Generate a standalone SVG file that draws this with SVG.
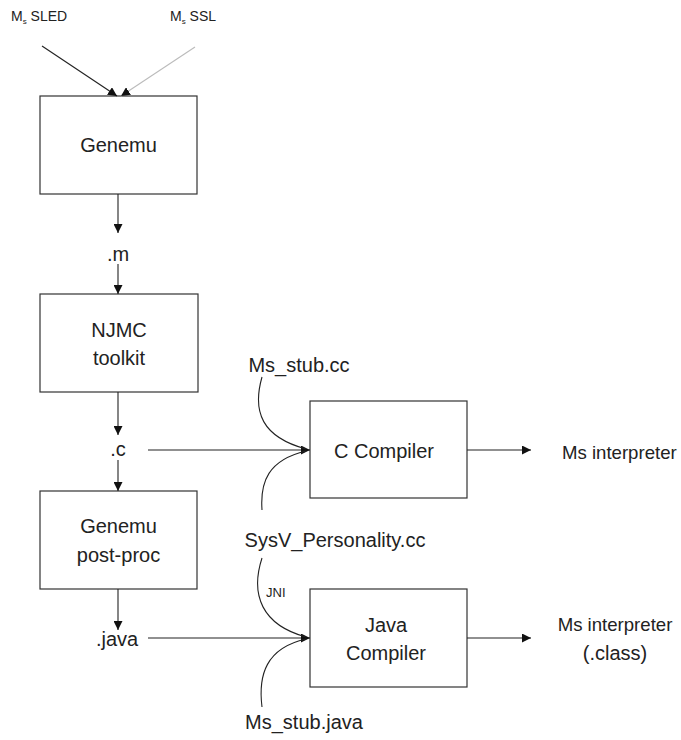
<svg xmlns="http://www.w3.org/2000/svg" width="681" height="740" viewBox="0 0 681 740">
<style>
text{font-family:"Liberation Sans",Arial,sans-serif;fill:#222;}
.t{font-size:20px;}
.o{font-size:18.6px;}
.s{font-size:13px;}
.top{font-size:14px;}
.sub{font-size:8px;}
.box{fill:#fff;stroke:#333;stroke-width:1.2;}
.ln{fill:none;stroke:#222;stroke-width:1.1;}
</style>
<defs>
<marker id="ah" viewBox="0 0 10 10" refX="10" refY="5" markerWidth="9" markerHeight="9" markerUnits="userSpaceOnUse" orient="auto">
<path d="M0,0 L10,5 L0,10 Z" fill="#111"/>
</marker>
</defs>
<rect width="681" height="740" fill="#fff"/>

<g id="label-sled"><text class="top" x="11" y="21">M<tspan class="sub" dy="3">s</tspan><tspan dy="-3"> SLED</tspan></text></g>
<g id="label-ssl"><text class="top" x="170" y="21">M<tspan class="sub" dy="3">s</tspan><tspan dy="-3"> SSL</tspan></text></g>

<g id="genemu"><rect class="box" x="40" y="96" width="157" height="98"/><text class="t" x="118.5" y="152" text-anchor="middle">Genemu</text></g>
<g id="m-label"><text class="t" x="118" y="261" text-anchor="middle">.m</text></g>
<g id="njmc"><rect class="box" x="40" y="294" width="158" height="98"/><text class="t" x="119" y="337" text-anchor="middle">NJMC</text><text class="t" x="119" y="365" text-anchor="middle">toolkit</text></g>
<g id="c-label"><text class="t" x="118" y="456" text-anchor="middle">.c</text></g>
<g id="postproc"><rect class="box" x="40" y="491" width="157" height="98"/><text class="t" x="118.5" y="533" text-anchor="middle">Genemu</text><text class="t" x="118.5" y="562" text-anchor="middle">post-proc</text></g>
<g id="java-label"><text class="t" x="117" y="646" text-anchor="middle">.java</text></g>

<g id="ccompiler"><rect class="box" x="310" y="401" width="157" height="97"/><text class="t" x="384" y="458" text-anchor="middle">C Compiler</text></g>
<g id="javacompiler"><rect class="box" x="310" y="589" width="157" height="98"/><text class="t" x="386" y="632" text-anchor="middle">Java</text><text class="t" x="386" y="660" text-anchor="middle">Compiler</text></g>

<g id="msstubcc"><text class="t" x="299" y="372" text-anchor="middle">Ms_stub.cc</text></g>
<g id="sysv"><text class="t" x="335" y="547" text-anchor="middle">SysV_Personality.cc</text></g>
<g id="msstubjava"><text class="t" x="304" y="729" text-anchor="middle">Ms_stub.java</text></g>
<g id="jni"><text class="s" x="266" y="597">JNI</text></g>
<g id="out-c"><text class="o" x="562" y="459">Ms interpreter</text></g>
<g id="out-java"><text class="o" x="615" y="631" text-anchor="middle">Ms interpreter</text><text class="t" x="615" y="660" text-anchor="middle">(.class)</text></g>

<g id="connectors">
<path class="ln" d="M42,46 L117,96" marker-end="url(#ah)"/>
<path d="M195,47 L121,96" fill="none" stroke="#bbb" stroke-width="1.1" marker-end="url(#ah)"/>
<path class="ln" d="M118,194 V233" marker-end="url(#ah)"/>
<path class="ln" d="M118,264 V294" marker-end="url(#ah)"/>
<path class="ln" d="M118,392 V435" marker-end="url(#ah)"/>
<path class="ln" d="M118,460 V491" marker-end="url(#ah)"/>
<path class="ln" d="M118,589 V630" marker-end="url(#ah)"/>
<path class="ln" d="M148,450 H310" marker-end="url(#ah)"/>
<path class="ln" d="M148,638 H310" marker-end="url(#ah)"/>
<path class="ln" d="M467,450 H531" marker-end="url(#ah)"/>
<path class="ln" d="M467,638 H531" marker-end="url(#ah)"/>
<path class="ln" d="M262,377 C252,412 262,437 306,449"/>
<path class="ln" d="M262,510 C260,482 268,460 306,451"/>
<path class="ln" d="M262,558 C250,595 262,625 306,637"/>
<path class="ln" d="M262,707 C258,675 266,648 306,639"/>
</g>
</svg>
